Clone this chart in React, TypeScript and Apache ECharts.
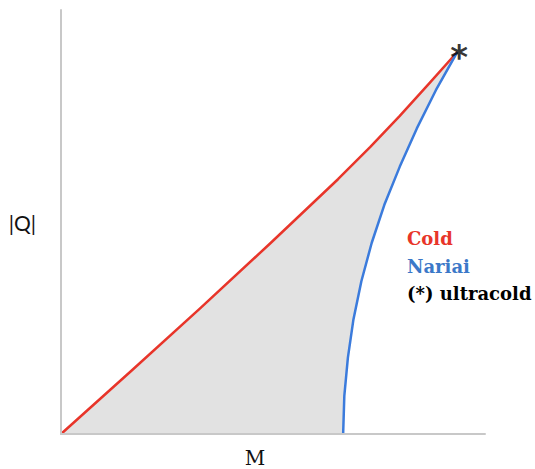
import React, { useEffect, useRef } from "react";
import * as echarts from "echarts";

// Cold curve (M, |Q|)
const coldM = [0, 0.177, 0.351, 0.527, 0.699, 0.78, 0.855, 0.931, 1.0];
const coldQ = [0, 0.165, 0.329, 0.498, 0.667, 0.751, 0.833, 0.92, 1.0];
// Nariai curve (M, |Q|)
const nariaiM = [0.712, 0.715, 0.724, 0.738, 0.758, 0.784, 0.816, 0.855, 0.898, 0.946, 1.0];
const nariaiQ = [0, 0.1, 0.2, 0.3, 0.4, 0.5, 0.6, 0.7, 0.8, 0.9, 1.0];
// Ultracold point
const ultraM = [1.0];
const ultraQ = [1.0];
const legendLabels = ["Cold", "Nariai", "(*) ultracold"];
const axisNames = ["M", "|Q|"];

export default function App() {
  const ref = useRef<HTMLDivElement>(null);
  useEffect(() => {
    if (!ref.current) return;
    document.body.style.margin = "0";
    const chart = echarts.init(ref.current, undefined, { renderer: "svg" });
    const cold = coldM.map((m, i) => [m, coldQ[i]]);
    const nariai = nariaiM.map((m, i) => [m, nariaiQ[i]]);
    const ultra = ultraM.map((m, i) => [m, ultraQ[i]]);
    const legendFont = "DejaVu Serif";
    chart.setOption({
      animation: false,
      backgroundColor: "#ffffff",
      grid: { left: 61, right: 50, top: 10, bottom: 35 },
      xAxis: {
        type: "value",
        min: 0,
        max: 1.07,
        z: 10,
        axisLine: { show: true, lineStyle: { color: "#c8c8c8", width: 2 } },
        axisTick: { show: false },
        axisLabel: { show: false },
        splitLine: { show: false },
      },
      yAxis: {
        type: "value",
        min: 0,
        max: 1.11,
        z: 10,
        name: axisNames[1],
        nameLocation: "middle",
        nameRotate: 0,
        nameGap: 25,
        nameTextStyle: { fontFamily: "Lato", fontSize: 21, color: "#111" },
        axisLine: { show: true, lineStyle: { color: "#c8c8c8", width: 2 } },
        axisTick: { show: false },
        axisLabel: { show: false },
        splitLine: { show: false },
      },
      series: [
        {
          type: "custom",
          data: [0],
          z: 1,
          silent: true,
          renderItem: (_params: any, api: any) => {
            const pts: number[][] = [];
            cold.forEach((p) => pts.push(api.coord(p)));
            for (let i = nariai.length - 1; i >= 0; i--) pts.push(api.coord(nariai[i]));
            return {
              type: "polygon",
              shape: { points: pts },
              style: { fill: "#e2e2e2", stroke: "none" },
            };
          },
        },
        {
          type: "line",
          data: cold,
          smooth: false,
          symbol: "none",
          lineStyle: { color: "#e8352a", width: 2.5, join: "round" },
          z: 3,
        },
        {
          type: "line",
          data: nariai,
          smooth: false,
          symbol: "none",
          lineStyle: { color: "#3b7bdc", width: 2.5, join: "round" },
          z: 3,
        },
        {
          type: "scatter",
          data: ultra,
          symbolSize: 1,
          itemStyle: { color: "rgba(0,0,0,0)" },
          label: {
            show: true,
            formatter: "*",
            position: "inside",
            offset: [2, 5],
            fontSize: 34,
            fontWeight: "bold",
            fontFamily: "DejaVu Sans",
            color: "#000",
          },
          z: 5,
        },
      ],
      graphic: [
        { type: "text", z: 100, x: 255, y: 458, style: { text: axisNames[0], fontFamily: "DejaVu Serif", fontSize: 20, fill: "#111", align: "center", verticalAlign: "middle" } },
        { type: "text", z: 100, left: 407, top: 229, style: { text: legendLabels[0], fontFamily: legendFont, fontWeight: "bold", fontSize: 18, fill: "#e8352a" } },
        { type: "text", z: 100, left: 407, top: 257, style: { text: legendLabels[1], fontFamily: legendFont, fontWeight: "bold", fontSize: 18, fill: "#3b78c8" } },
        { type: "text", z: 100, left: 407, top: 284, style: { text: legendLabels[2], fontFamily: legendFont, fontWeight: "bold", fontSize: 18, fill: "#000" } },
      ],
    });
    return () => chart.dispose();
  }, []);
  return <div ref={ref} style={{ width: 535, height: 469 }} />;
}
